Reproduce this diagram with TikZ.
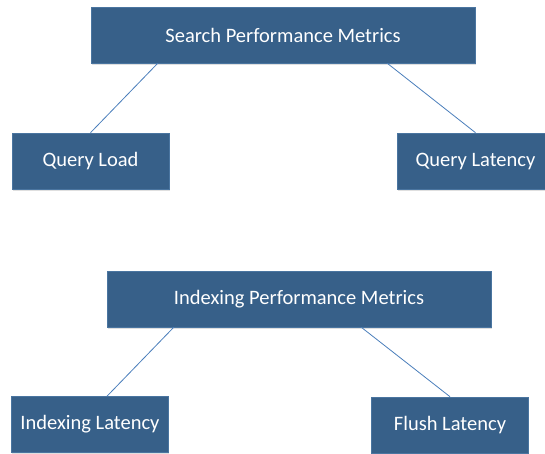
\documentclass[tikz,border=0pt]{standalone}
\usepackage{fontspec}
\setmainfont{Carlito}
\usetikzlibrary{calc,shadows}
\definecolor{boxfill}{HTML}{376089}
\definecolor{boxedge}{HTML}{4A75A0}
\definecolor{linkcol}{HTML}{4A7EBB}
\tikzset{
  metricbox/.style={rectangle, fill=boxfill, draw=boxedge, line width=0.6pt,
    text=white, font=\fontsize{20.5}{24}\selectfont, inner sep=0pt,
    minimum height=56pt,
    drop shadow={shadow xshift=0.6pt, shadow yshift=-1.6pt, opacity=0.25, fill=gray}},
  groupbox/.style={metricbox, minimum width=384pt},
  leafbox/.style={metricbox, minimum width=157pt},
  link/.style={draw=linkcol, line width=0.8pt}
}
\begin{document}
\begin{tikzpicture}[x=1pt, y=-1pt]
  \useasboundingbox (0,0) rectangle (545,453);
  % search group
  \node[groupbox] (search) at (283,35) {Search Performance Metrics};
  \node[leafbox] (qload) at (90.5,161) {Query Load};
  \node[leafbox] (qlat) at (475.5,161) {Query Latency};
  % indexing group
  \node[groupbox] (index) at (299,299) {Indexing Performance Metrics};
  \node[leafbox] (ilat) at (90,424.5) {Indexing Latency};
  \node[leafbox] (flush) at (450,425) {Flush Latency};
  % connectors
  \draw[link] ([xshift=67pt]search.south west) -- (qload.north);
  \draw[link] ([xshift=-88pt]search.south east) -- (qlat.north);
  \draw[link] ([xshift=67pt]index.south west) -- ([xshift=17pt]ilat.north);
  \draw[link] ([xshift=-130pt]index.south east) -- (flush.north);
\end{tikzpicture}
\end{document}
